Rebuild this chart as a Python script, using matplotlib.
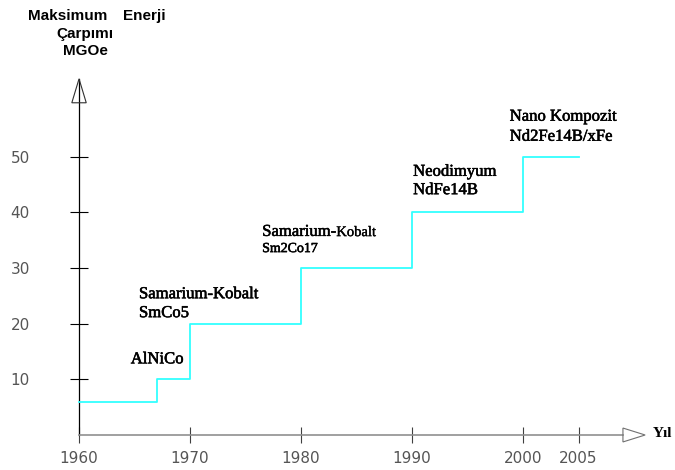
import matplotlib.pyplot as plt
import matplotlib.patheffects as pe
from matplotlib.patches import Polygon

# step data: magnet max energy product (MGOe) by year
years = [1960, 1967, 1970, 1980, 1990, 2000, 2005]
energy = [6, 10, 20, 30, 40, 50, 50]

xticks = [1960, 1970, 1980, 1990, 2000, 2005]
yticks = [10, 20, 30, 40, 50]

serif = 'Liberation Serif'
sans = 'Liberation Sans'
heavy = [pe.withStroke(linewidth=0.4, foreground='black')]

fig = plt.figure(figsize=(6.75, 4.7), dpi=100)
ax = fig.add_axes([0, 0, 1, 1])
ax.set_xlim(1952.88, 2013.69)
ax.set_ylim(-6.29, 78.17)

ax.step(years, energy, where='post', color='#33ffff', lw=1.3, zorder=3)

# axes through the origin
for s in ['top', 'right']:
    ax.spines[s].set_visible(False)
ax.spines['left'].set_position(('data', 1960))
ax.spines['bottom'].set_position(('data', 0))
ax.spines['left'].set_bounds(0, 64)
ax.spines['bottom'].set_bounds(1960, 2009)
ax.spines['left'].set_color('black')
ax.spines['bottom'].set_color('#909090')
ax.spines['left'].set_linewidth(0.9)
ax.spines['bottom'].set_linewidth(1.2)

ax.set_xticks(xticks)
ax.set_yticks(yticks)
ax.tick_params(axis='y', direction='inout', length=13, width=0.8, color='black',
               pad=29, labelsize=11, labelcolor='#555555')
ax.tick_params(axis='x', direction='inout', length=11.5, width=0.8, color='#404040',
               pad=6, labelsize=11, labelcolor='#555555')

# open arrow heads
ax.add_patch(Polygon([(1959.35, 59.7), (1960.65, 59.7), (1960, 64)], closed=True,
                     fill=False, ec='#303030', lw=0.8, zorder=4))
ax.add_patch(Polygon([(2009, 1.25), (2009, -1.25), (2011, 0)], closed=True,
                     fill=False, ec='#707070', lw=0.8, zorder=4))

ax.text(2011.7, 0.3, 'Yıl', family=serif, fontsize=11, weight='bold', va='center')

# magnet labels
kw = dict(family=serif, fontsize=12, va='center', path_effects=heavy)
ax.text(1964.66, 13.6, 'AlNiCo', **kw)
ax.text(1965.4, 25.3, 'Samarium-Kobalt', **kw)
ax.text(1965.4, 21.9, 'SmCo5', **kw)
t = ax.text(1976.5, 36.5, 'Samarium-', **kw)
ax.annotate('Kobalt', xy=(1, 0.05), xycoords=t, family=serif, fontsize=10.5,
            va='bottom', path_effects=[pe.withStroke(linewidth=0.25, foreground='black')])
ax.text(1976.5, 33.5, 'Sm2Co17', family=serif, fontsize=10, va='center', path_effects=heavy)
ax.text(1990.1, 47.3, 'Neodimyum', **kw)
ax.text(1990.1, 44.0, 'NdFe14B', **kw)
ax.text(1998.8, 57.2, 'Nano Kompozit', **kw)
ax.text(1998.8, 53.6, 'Nd2Fe14B/xFe', **kw)

# y axis title
tkw = dict(transform=ax.transAxes, family=sans, fontsize=11, weight='bold', va='center')
ax.text(28 / 675, 1 - 16 / 470, 'Maksimum', ha='left', **tkw)
ax.text(123 / 675, 1 - 16 / 470, 'Enerji', ha='left', **tkw)
ax.text(85 / 675, 1 - 34 / 470, 'Çarpımı', ha='center', **tkw)
ax.text(85 / 675, 1 - 51 / 470, 'MGOe', ha='center', **tkw)

fig.savefig('out.png', dpi=100)
